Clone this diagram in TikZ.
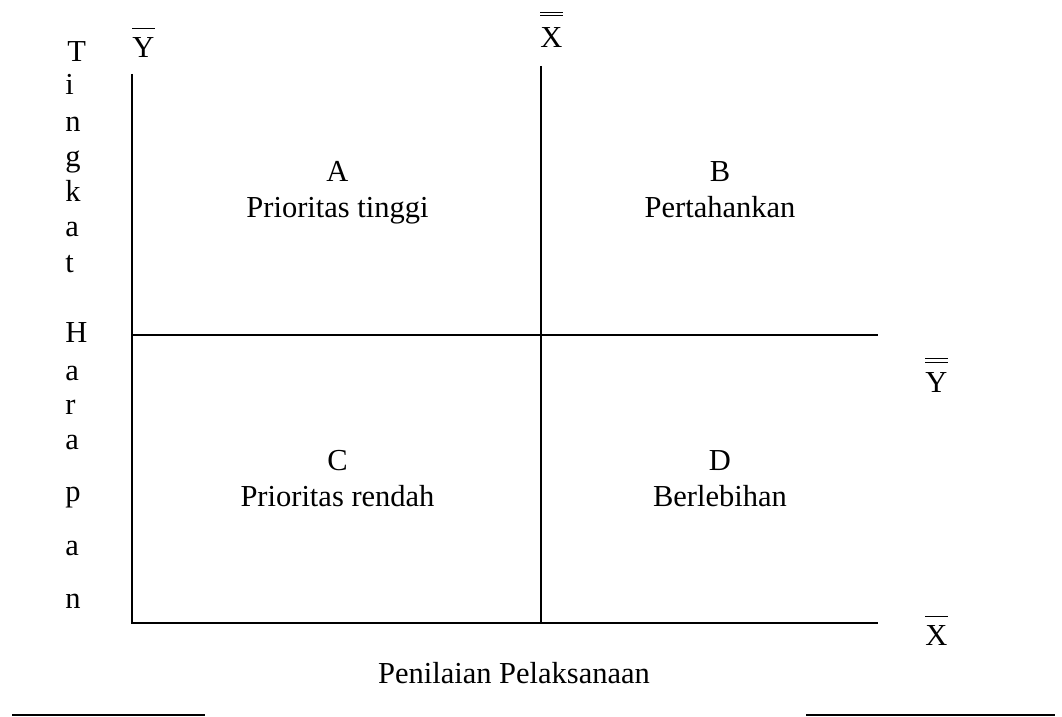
\documentclass[tikz,border=0pt]{standalone}
\usepackage{fontspec}
\setmainfont{Liberation Serif}
\begin{document}
\begin{tikzpicture}[x=0.5pt,y=-0.5pt,
  lbl/.style={inner sep=0pt, font=\fontsize{15.25}{18}\selectfont},
  axis/.style={line width=1pt},
  barline/.style={line width=0.6pt},
  rule/.style={line width=1.35pt}]
\useasboundingbox (0,0) rectangle (1062,717);
% axes
\coordinate (o) at (132,623);
\coordinate (ytop) at (132,74);
\coordinate (xend) at (878,623);
\coordinate (mtop) at (541,66);
\coordinate (mbot) at (541,623);
\coordinate (hl) at (132,335);
\coordinate (hr) at (878,335);
\draw[axis] (ytop) -- (o) -- (xend);
\draw[axis] (mtop) -- (mbot);
\draw[axis] (hl) -- (hr);
% axis labels with bars
\node[lbl, anchor=base west] (yb) at (132,58) {Y};
\draw[barline] ([yshift=4.5pt]yb.north west) -- ([yshift=4.5pt]yb.north east);
\node[lbl, anchor=base west] (xbb) at (540,48) {X};
\draw[barline] ([yshift=6pt]xbb.north west) -- ([yshift=6pt]xbb.north east);
\draw[barline] ([yshift=7.6pt]xbb.north west) -- ([yshift=7.6pt]xbb.north east);
\node[lbl, anchor=base west] (ybb) at (925,393) {Y};
\draw[barline] ([yshift=5pt]ybb.north west) -- ([yshift=5pt]ybb.north east);
\draw[barline] ([yshift=7.2pt]ybb.north west) -- ([yshift=7.2pt]ybb.north east);
\node[lbl, anchor=base west] (xb) at (925,645) {X};
\draw[barline] ([yshift=4pt]xb.north west) -- ([yshift=4pt]xb.north east);
% vertical title
\node[lbl, anchor=base west] (t1) at (67,62) {T};
\node[lbl, anchor=base west] (t2) at (65,95) {i};
\node[lbl, anchor=base west] (t3) at (65,132) {n};
\node[lbl, anchor=base west] (t4) at (65,167) {g};
\node[lbl, anchor=base west] (t5) at (65,202) {k};
\node[lbl, anchor=base west] (t6) at (65,237) {a};
\node[lbl, anchor=base west] (t7) at (65,273) {t};
\node[lbl, anchor=base west] (h1) at (65,343) {H};
\node[lbl, anchor=base west] (h2) at (65,380) {a};
\node[lbl, anchor=base west] (h3) at (65,415) {r};
\node[lbl, anchor=base west] (h4) at (65,450) {a};
\node[lbl, anchor=base west] (h5) at (65,502) {p};
\node[lbl, anchor=base west] (h6) at (65,555) {a};
\node[lbl, anchor=base west] (h7) at (65,608) {n};
% quadrants
\node[lbl, anchor=base] (qa) at (337.5,182) {A};
\node[lbl, anchor=base] (qat) at (337.5,218) {Prioritas tinggi};
\node[lbl, anchor=base] (qb) at (720,182) {B};
\node[lbl, anchor=base] (qbt) at (720,218) {Pertahankan};
\node[lbl, anchor=base] (qc) at (337.5,470) {C};
\node[lbl, anchor=base] (qct) at (337.5,506) {Prioritas rendah};
\node[lbl, anchor=base] (qd) at (720,470) {D};
\node[lbl, anchor=base] (qdt) at (720,506) {Berlebihan};
% bottom title
\node[lbl, anchor=base] (pp) at (514,683) {Penilaian Pelaksanaan};
% bottom rules
\coordinate (r1a) at (12,715);
\coordinate (r1b) at (205,715);
\coordinate (r2a) at (806,715);
\coordinate (r2b) at (1055,715);
\draw[rule] (r1a) -- (r1b);
\draw[rule] (r2a) -- (r2b);
\end{tikzpicture}
\end{document}
